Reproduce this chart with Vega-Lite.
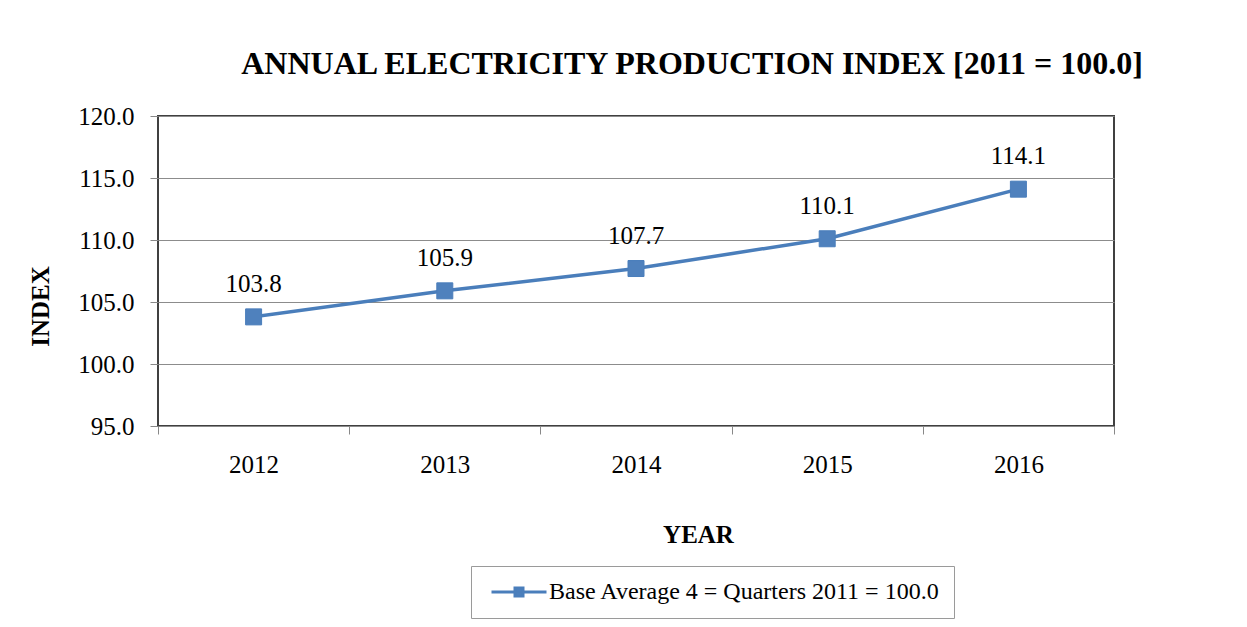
{
  "$schema": "https://vega.github.io/schema/vega-lite/v6.json",
  "autosize": {"type": "none"},
  "width": 956,
  "height": 310,
  "padding": {"left": 158, "top": 116, "right": 133, "bottom": 201},
  "background": "white",
  "config": {
    "font": "Liberation Serif, serif",
    "view": {"stroke": "#404040", "strokeWidth": 2},
    "axis": {"labelFont": "Liberation Serif, serif", "titleFont": "Liberation Serif, serif"},
    "legend": {"labelFont": "Liberation Serif, serif"},
    "text": {"font": "Liberation Serif, serif"}
  },
  "title": {
    "text": "ANNUAL ELECTRICITY PRODUCTION INDEX [2011 = 100.0]",
    "font": "Liberation Serif, serif",
    "fontSize": 32,
    "fontWeight": "bold",
    "color": "black",
    "anchor": "middle",
    "dx": 56,
    "offset": 23
  },
  "data": {
    "values": [
      {"year": "2012", "index": 103.8, "series": "Base Average 4 = Quarters 2011 = 100.0"},
      {"year": "2013", "index": 105.9, "series": "Base Average 4 = Quarters 2011 = 100.0"},
      {"year": "2014", "index": 107.7, "series": "Base Average 4 = Quarters 2011 = 100.0"},
      {"year": "2015", "index": 110.1, "series": "Base Average 4 = Quarters 2011 = 100.0"},
      {"year": "2016", "index": 114.1, "series": "Base Average 4 = Quarters 2011 = 100.0"}
    ]
  },
  "encoding": {
    "x": {
      "field": "year",
      "type": "ordinal",
      "bandPosition": 0.5,
      "scale": {"type": "band", "paddingInner": 0, "paddingOuter": 0},
      "axis": {
        "title": "YEAR",
        "titleFontSize": 25,
        "titleFontWeight": "bold",
        "titleColor": "black",
        "titlePadding": 45,
        "titleX": 540,
        "labelAngle": 0,
        "labelFontSize": 25,
        "labelColor": "black",
        "labelPadding": 18,
        "tickBand": "extent",
        "tickSize": 8,
        "tickColor": "#888888",
        "domain": false,
        "grid": false
      }
    },
    "y": {
      "field": "index",
      "type": "quantitative",
      "scale": {"domain": [95, 120], "nice": false, "zero": false},
      "axis": {
        "title": "INDEX",
        "titleFontSize": 25,
        "titleFontWeight": "bold",
        "titleColor": "black",
        "titleX": -105,
        "titleY": 190,
        "values": [95, 100, 105, 110, 115, 120],
        "format": ".1f",
        "labelFontSize": 25,
        "labelColor": "black",
        "labelPadding": 16,
        "tickSize": 8,
        "tickColor": "#888888",
        "domain": false,
        "grid": true,
        "gridColor": "#8c8c8c",
        "gridWidth": 1
      }
    }
  },
  "layer": [
    {
      "mark": {"type": "line", "strokeWidth": 3.5},
      "encoding": {
        "color": {
          "field": "series",
          "type": "nominal",
          "scale": {"range": ["#4A7EBB"]},
          "legend": {
            "title": null,
            "orient": "none",
            "legendX": 313,
            "legendY": 450,
            "strokeColor": "#9a9a9a",
            "padding": 14,
            "labelFontSize": 24,
            "labelColor": "black",
            "labelLimit": 600,
            "labelOffset": 18,
            "symbolOffset": 22,
            "symbolType": "M-2.75,0L2.75,0M-0.4,-0.4L0.4,-0.4L0.4,0.4L-0.4,0.4Z",
            "symbolSize": 400,
            "symbolStrokeWidth": 3,
            "symbolFillColor": "#4F81BD",
            "encode": {
              "symbols": {
                "update": {
                  "fill": {"value": "#4F81BD"},
                  "stroke": {"value": "#4A7EBB"},
                  "strokeWidth": {"value": 3}
                }
              }
            }
          }
        }
      }
    },
    {
      "mark": {"type": "point", "shape": "square", "filled": true, "size": 256, "color": "#4F81BD", "stroke": "#4A7EBB", "strokeWidth": 1, "opacity": 1}
    },
    {
      "mark": {"type": "text", "dy": -33, "fontSize": 25, "color": "black"},
      "encoding": {"text": {"field": "index", "type": "quantitative", "format": ".1f"}}
    }
  ]
}
